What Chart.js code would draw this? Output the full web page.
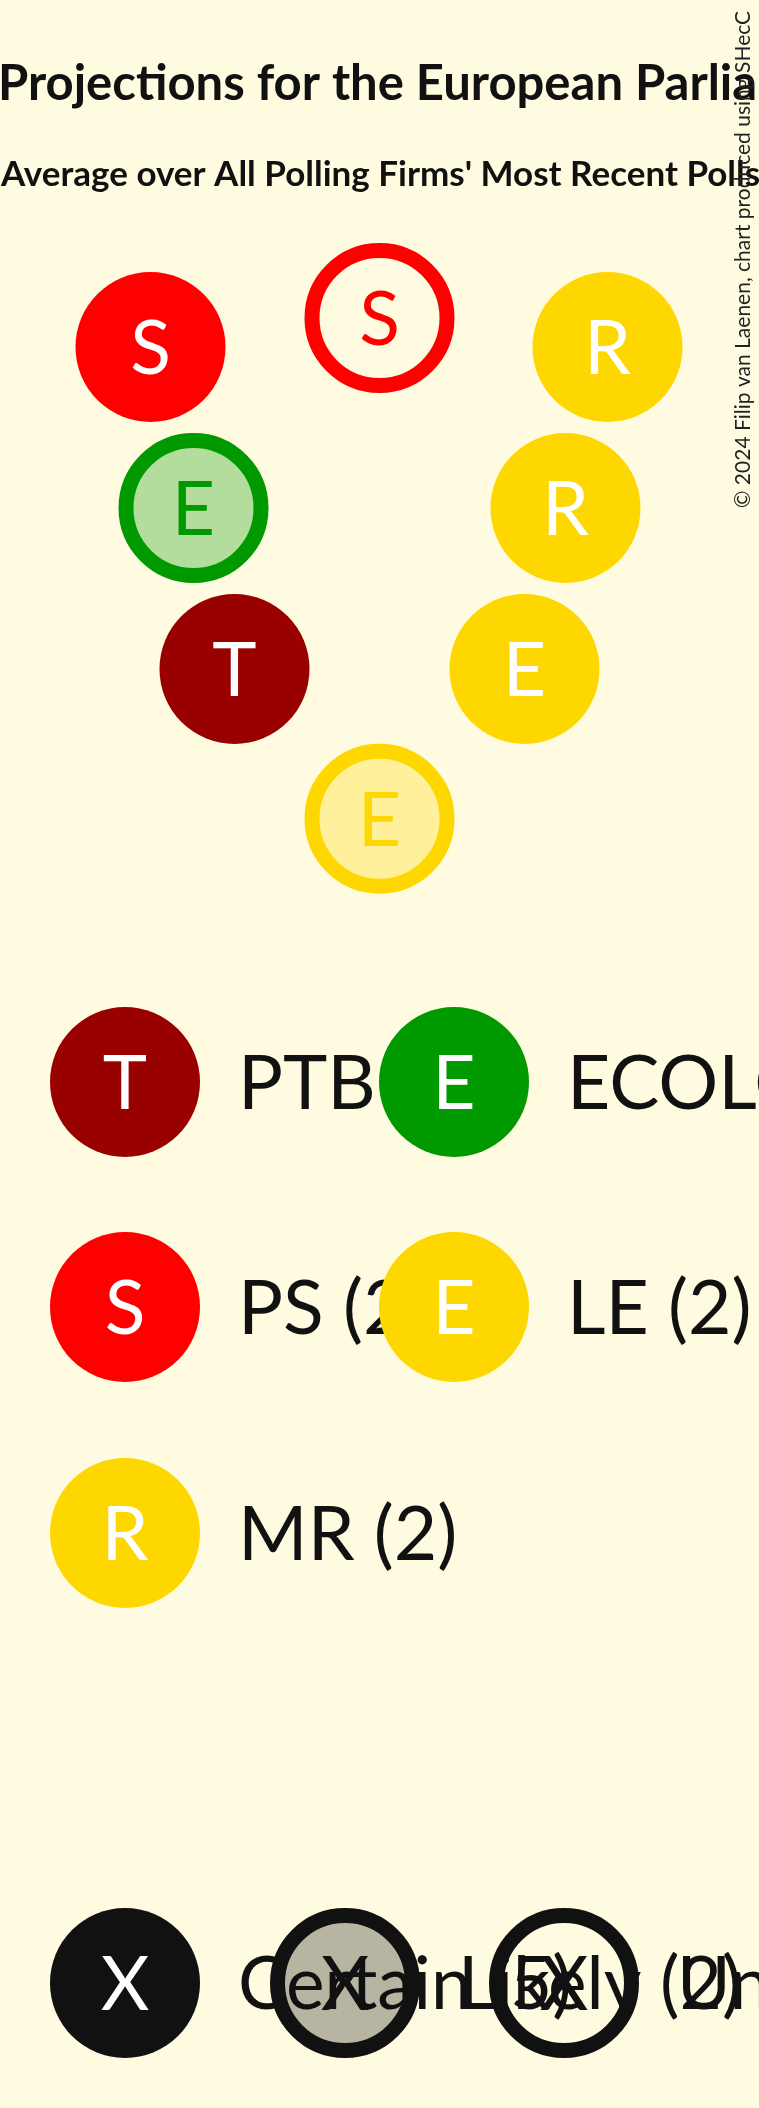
<!DOCTYPE html>
<html>
<head>
<meta charset="utf-8">
<script src="https://cdn.jsdelivr.net/npm/chart.js@4.4.1/dist/chart.umd.min.js"></script>
<style>
  html, body { margin: 0; padding: 0; background: #fffbe0; }
  #wrap { width: 759px; height: 2108px; }
</style>
</head>
<body>
<div id="wrap"><canvas id="seats"></canvas></div>
<script>
// texts
const titleText = 'Projections for the European Parliament';
const subtitleText = "Average over All Polling Firms' Most Recent Polls";
const creditText = '© 2024 Filip van Laenen, chart produced using SHecC';

// parties, in legend order
const parties = ['PTB', 'ECOLO', 'PS', 'LE', 'MR'];
const partyLetters = ['T', 'E', 'S', 'E', 'R'];
const partyColors = ['#990000', '#009900', '#ff0000', '#ffd700', '#ffd700'];

// one entry per seat (x in hemicycle units, y in rows)
const seatParty = ['PS', 'PS', 'MR', 'ECOLO', 'MR', 'PTB', 'LE', 'LE'];
const seatStatus = ['certain', 'unlikely', 'certain', 'likely', 'certain', 'certain', 'certain', 'likely'];
const seatX = [-2.29, 0, 2.28, -1.86, 1.86, -1.45, 1.45, 0];
const seatY = [0, -0.18, 0, 1, 1, 2, 2, 2.93];

const statuses = ['certain', 'likely', 'unlikely'];
const statusLabels = ['Certain', 'Likely', 'Unlikely'];

const BG = '#fffbe0';
const INK = '#111111';
const R = 75;      // seat radius
const RING = 15;   // outline width

function withAlpha(hex, a) {
  const n = parseInt(hex.slice(1), 16);
  return 'rgba(' + (n >> 16) + ',' + ((n >> 8) & 255) + ',' + (n & 255) + ',' + a + ')';
}

function colorOf(party) {
  return partyColors[parties.indexOf(party)];
}

function fillFor(color, status) {
  if (status === 'certain') return color;
  if (status === 'likely') return withAlpha(color, 0.3);
  return 'rgba(0,0,0,0)';
}

function drawLetter(ctx, x, y, letter, color) {
  ctx.font = '75px Lato';
  ctx.fillStyle = color;
  ctx.textAlign = 'center';
  ctx.textBaseline = 'alphabetic';
  ctx.fillText(letter, x, y + 27);
}

function drawDisc(ctx, x, y, color, status, letter) {
  ctx.save();
  ctx.beginPath();
  if (status === 'certain') {
    ctx.arc(x, y, R, 0, Math.PI * 2);
    ctx.fillStyle = color;
    ctx.fill();
  } else {
    ctx.arc(x, y, R - RING / 2, 0, Math.PI * 2);
    ctx.fillStyle = fillFor(color, status);
    ctx.fill();
    ctx.lineWidth = RING;
    ctx.strokeStyle = color;
    ctx.stroke();
  }
  drawLetter(ctx, x, y, letter, status === 'certain' ? '#ffffff' : color);
  ctx.restore();
}

const seatPoints = seatX.map((x, i) => ({ x: x, y: seatY[i] }));
const seatColors = seatParty.map(colorOf);

const decor = {
  id: 'decor',
  beforeDraw(chart) {
    const ctx = chart.ctx;
    ctx.save();
    ctx.fillStyle = BG;
    ctx.fillRect(0, 0, chart.width, chart.height);
    ctx.restore();
  },
  afterDatasetsDraw(chart) {
    const ctx = chart.ctx;
    const meta = chart.getDatasetMeta(0);
    meta.data.forEach((pt, i) => {
      const letter = partyLetters[parties.indexOf(seatParty[i])];
      drawLetter(ctx, pt.x, pt.y, letter, seatStatus[i] === 'certain' ? '#ffffff' : seatColors[i]);
    });
  },
  afterDraw(chart) {
    const ctx = chart.ctx;
    ctx.save();
    ctx.fillStyle = INK;
    ctx.textAlign = 'left';
    ctx.textBaseline = 'alphabetic';
    ctx.font = 'bold 49px Lato';
    ctx.fillText(titleText, -2, 100);
    ctx.font = 'bold 35px Lato';
    ctx.fillText(subtitleText, 1, 186);

    // credit line, rotated
    ctx.save();
    ctx.translate(750, 508);
    ctx.rotate(-Math.PI / 2);
    ctx.font = '21px Lato';
    ctx.fillStyle = '#222222';
    ctx.fillText(creditText, 0, 0);
    ctx.restore();

    // party legend
    const colX = [125, 454];
    const rowY = [1082, 1307, 1533];
    parties.forEach((p, i) => {
      const x = colX[i % 2];
      const y = rowY[Math.floor(i / 2)];
      const n = seatParty.filter(s => s === p).length;
      drawDisc(ctx, x, y, partyColors[i], 'certain', partyLetters[i]);
      ctx.font = '75px Lato';
      ctx.fillStyle = INK;
      ctx.textAlign = 'left';
      ctx.fillText(p + ' (' + n + ')', x + 113, y + 27);
    });

    // status legend
    const stX = [125, 345, 564];
    statuses.forEach((s, i) => {
      const n = seatStatus.filter(t => t === s).length;
      drawDisc(ctx, stX[i], 1983, INK, s, 'X');
      ctx.font = '73px Lato';
      ctx.fillStyle = INK;
      ctx.textAlign = 'left';
      ctx.fillText(statusLabels[i] + ' (' + n + ')', stX[i] + 113, 1983 + 26);
    });
    ctx.restore();
  }
};

document.fonts.load('75px Lato').then(() => {
  new Chart(document.getElementById('seats'), {
    type: 'scatter',
    data: {
      datasets: [{
        data: seatPoints,
        backgroundColor: seatColors.map((c, i) => fillFor(c, seatStatus[i])),
        borderColor: seatColors,
        borderWidth: seatStatus.map(s => s === 'certain' ? 0 : RING),
        pointRadius: seatStatus.map(s => s === 'certain' ? R : R - RING / 2),
        pointHoverRadius: seatStatus.map(s => s === 'certain' ? R : R - RING / 2),
        clip: false
      }]
    },
    options: {
      responsive: true,
      maintainAspectRatio: false,
      animation: false,
      layout: { padding: 0, autoPadding: false },
      plugins: {
        legend: { display: false },
        tooltip: { enabled: false }
      },
      scales: {
        x: { type: 'linear', min: -3.795, max: 3.795, display: false },
        y: { type: 'linear', reverse: true, min: -347 / 161, max: 1761 / 161, display: false }
      }
    },
    plugins: [decor]
  });
});
</script>
</body>
</html>
